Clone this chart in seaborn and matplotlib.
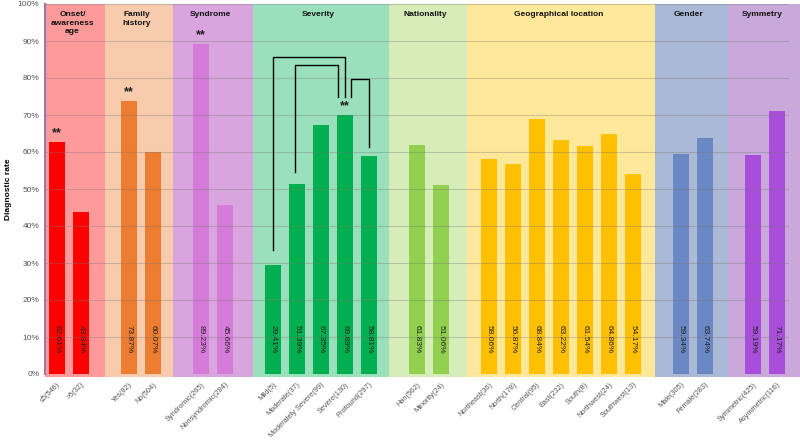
import matplotlib
matplotlib.use("Agg")
import matplotlib.pyplot as plt
from matplotlib.patches import Rectangle
import seaborn as sns
import pandas as pd

# ---- data ----
groups = ["Onset/\nawareness\nage", "Family\nhistory", "Syndrome", "Severity",
          "Nationality", "Geographical location", "Gender", "Symmetry"]

onset_labels = ["≤5(546)", ">5(32)"]
onset_vals = [62.61, 43.84]
family_labels = ["Yes(82)", "No(504)"]
family_vals = [73.87, 60.07]
syndrome_labels = ["Syndromic(265)", "Nonsyndromic(284)"]
syndrome_vals = [89.23, 45.66]
severity_labels = ["Mild(5)", "Moderate(37)", "Moderately Severe(99)", "Severe(130)", "Profound(297)"]
severity_vals = [29.41, 51.39, 67.35, 69.89, 58.81]
nation_labels = ["Han(562)", "Minority(24)"]
nation_vals = [61.83, 51.06]
geo_labels = ["Northeast(36)", "North(178)", "Central(95)", "East(232)", "South(8)",
              "Northwest(24)", "Southwest(13)"]
geo_vals = [58.06, 56.87, 68.84, 63.22, 61.54, 64.86, 54.17]
gender_labels = ["Male(305)", "Female(283)"]
gender_vals = [59.34, 63.74]
sym_labels = ["Symmetric(425)", "Asymmetric(116)"]
sym_vals = [59.19, 71.17]

all_labels = [onset_labels, family_labels, syndrome_labels, severity_labels,
              nation_labels, geo_labels, gender_labels, sym_labels]
all_vals = [onset_vals, family_vals, syndrome_vals, severity_vals,
            nation_vals, geo_vals, gender_vals, sym_vals]

# significance stars (category label -> text)
stars = {"≤5(546)": "**", "Yes(82)": "**", "Syndromic(265)": "**", "Severe(130)": "**"}

bar_colors = ["#FF0000", "#ED7D31", "#D57BD9", "#00B050", "#92D050", "#FFC000", "#6A88C3", "#A84EDB"]
bg_colors = ["#FF9A9A", "#F8CBAD", "#D8A5DE", "#9BE0BC", "#D6EDB9", "#FFE89A", "#AAB9D5", "#C8A9DA"]

# ---- build frame ----
rows = []
p = 0
for g, (labs, vals) in enumerate(zip(all_labels, all_vals)):
    for lab, v in zip(labs, vals):
        rows.append({"group": groups[g], "label": lab, "value": v, "pos": p})
        p += 1
    p += 1  # empty slot between groups
df = pd.DataFrame(rows)

region_edges = [-0.5, 2.0, 4.85, 8.17, 13.83, 17.08, 24.9, 27.96, 31.0]

plt.rcParams["font.family"] = ["Liberation Sans", "DejaVu Sans"]

fig = plt.figure(figsize=(8, 4.42), dpi=100)
ax = fig.add_axes([45 / 800, 1 - 374 / 442, 744 / 800, 370 / 442])

for g in range(len(groups)):
    ax.add_patch(Rectangle((region_edges[g], -0.8), region_edges[g + 1] - region_edges[g], 100.8,
                           facecolor=bg_colors[g], edgecolor="none", zorder=0, clip_on=False))
    ax.text((region_edges[g] + region_edges[g + 1]) / 2 - 0.1, 98.0, groups[g],
            ha="center", va="top", fontsize=6, fontweight="bold", color="#111", linespacing=1.3)

sns.barplot(data=df, x="pos", y="value", hue="group", palette=bar_colors, native_scale=True,
            dodge=False, width=0.67, legend=False, ax=ax, zorder=2, saturation=1)

for _, r in df.iterrows():
    ax.text(r["pos"], 9.3, f"{r['value']:.2f}%", rotation=270, ha="center", va="center",
            fontsize=6, color="#222", zorder=3)
    if r["label"] in stars:
        ax.text(r["pos"], r["value"] + 0.8, stars[r["label"]], ha="center", va="bottom",
                fontsize=9, fontweight="bold", color="#222", zorder=3)

# comparison brackets in the severity group
brackets = [
    ([9.0, 9.0, 12.0, 12.0], [33.5, 85.7, 85.7, 75.0]),
    ([9.9, 9.9, 11.7, 11.7], [54.6, 83.5, 83.5, 75.0]),
    ([12.25, 12.25, 13.0, 13.0], [75.0, 79.7, 79.7, 61.4]),
]
for bx, by in brackets:
    ax.plot(bx, by, color="black", lw=1, zorder=4)

ax.set_xlim(-0.5, 30.5)
ax.set_ylim(0, 100)
ax.set_yticks(range(0, 101, 10))
ax.set_yticklabels([f"{t}%" for t in range(0, 101, 10)], fontsize=6, color="#555")
ax.set_xticks(df["pos"])
ax.set_xticklabels(df["label"], rotation=45, ha="right", rotation_mode="anchor",
                   fontsize=5.3, color="#555")
ax.tick_params(axis="both", length=0)
ax.tick_params(axis="x", pad=5)
ax.tick_params(axis="y", pad=4)
ax.set_xlabel("")
ax.set_ylabel("Diagnostic rate", fontsize=6, fontweight="bold", labelpad=8)
ax.yaxis.set_label_coords(-0.045, 0.5)

ax.yaxis.grid(True, color="#777", alpha=0.35, lw=0.8)
ax.set_axisbelow(False)
for gl in ax.get_ygridlines():
    gl.set_zorder(1)

for s in ["top", "right", "bottom"]:
    ax.spines[s].set_visible(False)
ax.spines["left"].set_color("#9A7AA8")
ax.spines["left"].set_linewidth(1.5)
ax.spines["left"].set_zorder(5)

fig.savefig("out.png", dpi=100)
